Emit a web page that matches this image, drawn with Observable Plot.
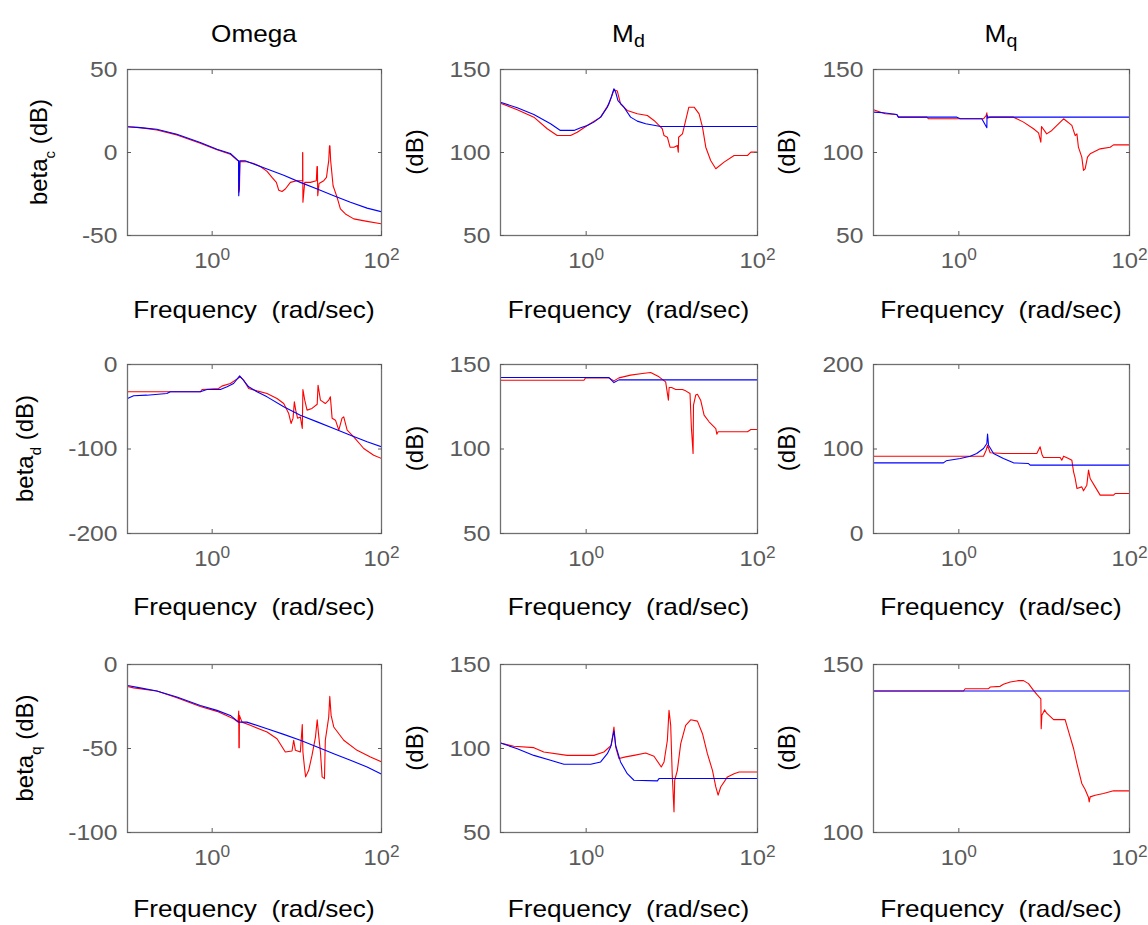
<!DOCTYPE html>
<html><head><meta charset="utf-8">
<script src="https://cdn.jsdelivr.net/npm/d3@7"></script>
<script src="https://cdn.jsdelivr.net/npm/@observablehq/plot@0.6"></script>
<style>
html,body{margin:0;padding:0;background:#fff;}
#fig{position:relative;width:1148px;height:925px;overflow:hidden;font-family:"Liberation Sans",Arial,sans-serif;}
#fig svg{position:absolute;overflow:visible;}
</style></head><body><div id="fig"></div>
<script>
// ---------------- DATA: [frequency (rad/sec), magnitude (dB)] ----------------
const xTicks = [1, 100];
const colTitles = [{main: "Omega", sub: ""}, {main: "M", sub: "d"}, {main: "M", sub: "q"}];
const rowLabels = [{main: "beta", sub: "c"}, {main: "beta", sub: "d"}, {main: "beta", sub: "q"}];
const xLabel = "Frequency  (rad/sec)";
const yUnit = "(dB)";

const yDomains = [[[-50, 50], [50, 150], [50, 150]], [[-200, 0], [50, 150], [0, 200]], [[-100, 0], [50, 150], [100, 150]]];
const yTicks = [[[-50, 0, 50], [50, 100, 150], [50, 100, 150]], [[-200, -100, 0], [50, 100, 150], [0, 100, 200]], [[-100, -50, 0], [50, 100, 150], [100, 150]]];

const betaC_Omega_blue = [[0.1,15.5],[0.141,15],[0.222,14],[0.383,11],[0.724,6],[1.14,2],[1.64,-0.6],[2.0,-4.6],[2.05,-5],[2.06,-26],[2.09,-20],[2.12,-5],[2.45,-5],[4.45,-10],[7.0,-13.7],[11.0,-18],[17.4,-22],[27.3,-26],[43,-30],[67.6,-33.5],[100,-35.7]];
const betaC_Omega_red = [[0.1,15.5],[0.141,15],[0.222,13.6],[0.383,10.6],[0.724,5.6],[1.14,1.6],[1.64,-1],[2.0,-4.8],[2.05,-5.2],[2.06,-24],[2.1,-22],[2.13,-5.5],[2.57,-5.6],[3.09,-6.6],[3.71,-8.4],[4.45,-11.4],[5.09,-15],[5.73,-18],[6.11,-22.7],[6.68,-23.5],[7.31,-22],[8.39,-18],[10,-17],[11.5,-17],[11.7,-17],[11.7,0],[11.75,0],[11.8,-30],[12.4,-18],[14.45,-18],[17.0,-17],[17.3,-8.4],[17.5,-8.4],[17.66,-26],[18.3,-18.7],[20.8,-17],[22.4,-15],[23.2,-9],[23.8,-5],[24.3,4],[24.6,4],[25.1,-5],[26.8,-20],[29.9,-27],[32.7,-34],[37.5,-37],[47,-40],[67.6,-41.5],[100,-43]];

const betaC_Md_blue = [[0.1,130.3],[0.157,126.9],[0.245,122.9],[0.384,117.3],[0.5,113.3],[0.72,113.3],[0.861,114.9],[1.03,116.3],[1.23,118.3],[1.476,121.3],[1.766,127.3],[1.963,133.3],[2.11,138.4],[2.21,136.3],[2.35,131.3],[2.76,127.3],[3.30,121.3],[3.95,118.9],[4.95,117.3],[7.41,115.7],[100,115.7]];
const betaC_Md_red = [[0.1,129.7],[0.157,125.7],[0.245,121.3],[0.351,114.3],[0.459,110.2],[0.658,110.2],[0.787,112.2],[1.03,116.3],[1.476,121.3],[1.845,129.3],[2.11,137.8],[2.31,137],[2.52,129.3],[3.02,125.3],[3.95,123.3],[5.18,122.3],[6.19,119.3],[7.08,116.3],[7.74,114.3],[8.11,110.2],[8.87,109.2],[9.53,103.2],[10.6,103.2],[11.6,104.2],[11.9,100.2],[12.0,109.2],[13.3,111.2],[13.9,115.3],[15.8,127.3],[18.2,127.3],[20.8,123.3],[22.8,115.3],[24.9,103.2],[28.4,95.2],[32.6,90.2],[40.7,94.2],[53.3,98.2],[76.4,98.2],[83.6,100.2],[100,100.2]];

const betaC_Mq_blue = [[0.1,124.3],[0.131,123.9],[0.1875,122.9],[0.196,121.3],[0.948,121.3],[1.04,120.3],[1.86,120.3],[2.13,114.9],[2.14,122.5],[2.17,121.3],[100,121.3]];
const betaC_Mq_red = [[0.1,125.7],[0.137,123.3],[0.1875,122.9],[0.196,121.3],[0.422,121.3],[0.442,120.3],[1.945,120.3],[2.09,122.3],[2.13,123.9],[2.15,120.7],[2.33,121.3],[4.37,121.3],[5.73,118.3],[7.5,114.3],[8.59,111.8],[9.14,106.2],[9.31,115.7],[10.7,111.2],[12.3,113.3],[16.9,120.3],[21.1,116.3],[23.1,110.2],[24.2,111.2],[25.2,103.2],[27.6,97.2],[28.9,89.2],[30.2,90.2],[32.2,97.2],[34.6,99.2],[45.3,102.2],[59.3,103.2],[65.0,104.6],[100,104.6]];

const betaD_Omega_blue = [[0.1,-40.2],[0.118,-37],[0.169,-36.3],[0.292,-34.3],[0.32,-32.3],[0.724,-32.3],[0.867,-29.6],[1.25,-29.6],[1.50,-26.4],[1.79,-22.5],[2.11,-13.4],[2.25,-16.6],[2.70,-26.4],[3.38,-32.3],[4.45,-38.3],[7.0,-50.1],[11.0,-60],[17.4,-67.9],[27.3,-75.7],[43,-83.6],[67.6,-91.5],[100,-97.4]];
const betaD_Omega_red = [[0.1,-32.3],[0.724,-32.3],[0.76,-29.6],[1.19,-28.4],[1.3,-25.6],[1.64,-22.5],[1.875,-18.5],[2.15,-14.6],[2.355,-18.5],[2.70,-28.4],[3.38,-31.2],[4.45,-34.3],[5.83,-40.2],[7.0,-46.2],[8.02,-58],[8.55,-69.8],[9.02,-63.5],[9.35,-44.2],[9.7,-54],[10.2,-63.5],[11.0,-62],[11.6,-75.7],[11.8,-29.6],[12.4,-42.2],[13.2,-54],[15.1,-52],[17.4,-47],[17.8,-24.5],[19.0,-42.2],[21.7,-46.2],[23.8,-42.2],[24.9,-38.3],[26.1,-63.5],[28.6,-65.9],[31.3,-77.7],[34.2,-63.5],[35.8,-61.9],[39.3,-77.7],[47.0,-85.6],[61.7,-99.4],[80.9,-107.3],[100,-111.2]];

const betaD_Md_blue = [[0.1,142.3],[1.845,142.3],[2.11,139.3],[2.415,140.9],[100,140.9]];
const betaD_Md_red = [[0.1,140.7],[0.942,140.7],[0.984,142.1],[1.845,142.1],[2.11,140.3],[2.415,142.1],[3.30,143.7],[4.53,144.7],[5.66,145.3],[7.08,142.7],[8.47,139.7],[9.12,128.9],[9.3,136.4],[9.95,136.4],[11.1,135.2],[13.3,135.2],[14.5,134.4],[16.3,132.8],[16.9,113.1],[17.7,97.3],[17.9,125.9],[19.0,131.9],[19.9,132.4],[21.7,128.9],[23.8,120],[27.2,116.1],[32.6,112.1],[33.5,108.8],[34.7,110.2],[76.4,110.2],[83.6,111.5],[100,111.5]];

const betaD_Mq_blue = [[0.1,83.6],[0.66,83.6],[0.711,86],[1.04,88.8],[1.36,91.5],[1.62,94.7],[1.945,100.6],[2.13,106.5],[2.17,117.6],[2.23,104.5],[2.55,94.7],[3.33,88.8],[4.37,83.6],[6.55,82.8],[6.86,80.9],[100,80.9]];
const betaD_Mq_red = [[0.1,91.5],[1.945,91.5],[2.09,98.6],[2.17,104.5],[2.33,95.5],[3.33,94.7],[8.2,94.7],[8.97,102.6],[9.4,93.9],[9.82,89.9],[15.4,89.9],[16.1,86.8],[16.9,91.5],[19.3,88.8],[21.1,86.8],[22.1,73],[23.1,65.1],[24.2,53.3],[27.6,55.2],[28.9,50.5],[31.6,57.2],[33.1,75],[34.6,65.1],[39.6,55.2],[45.3,45.4],[65.0,45.4],[67.9,47.3],[100,47.3]];

const betaQ_Omega_blue = [[0.1,-12.5],[0.141,-13.9],[0.222,-15.8],[0.383,-19.4],[0.724,-24.4],[1.14,-27.3],[1.64,-30.3],[2.06,-34.3],[2.57,-34.3],[4.45,-38.2],[7.0,-41.6],[11.0,-45.1],[17.4,-49.1],[27.3,-53.1],[43,-57],[67.6,-61],[100,-65.3]];
const betaQ_Omega_red = [[0.1,-13.1],[0.118,-13.9],[0.222,-15.8],[0.383,-19.8],[0.724,-25],[1.14,-27.9],[1.79,-32.3],[2.02,-34.3],[2.06,-27.7],[2.07,-49.5],[2.09,-49.5],[2.1,-30.3],[2.25,-34.3],[2.82,-36.2],[4.45,-40.2],[5.83,-44.2],[7.31,-52.1],[8.77,-51.5],[9.18,-45.1],[9.62,-51.1],[11.0,-52.1],[11.6,-35.8],[11.8,-52.1],[12.3,-61],[12.7,-66.9],[13.8,-63],[15.1,-54.1],[16.6,-43.2],[17.4,-32.9],[18.2,-43.2],[19.0,-52.1],[19.9,-66.9],[21.2,-67.9],[21.7,-45.1],[23.8,-31.3],[24.5,-19],[25.4,-30.3],[27.3,-37.2],[35.8,-45.1],[51.5,-51.1],[74.1,-55],[100,-58]];

const betaQ_Md_blue = [[0.1,103.3],[0.12,101.9],[0.157,99.9],[0.245,95.9],[0.384,93],[0.55,90.6],[1.13,90.6],[1.476,92],[1.766,96.9],[1.93,100.9],[2.11,110.4],[2.21,101.9],[2.52,92],[3.02,85],[3.61,81.1],[6.78,80.7],[7.08,82.1],[100,82.1]];
const betaQ_Md_red = [[0.1,103.3],[0.143,101.3],[0.245,100.5],[0.32,97.9],[0.6,95.9],[1.23,95.9],[1.61,97.9],[1.963,101.9],[2.11,112.8],[2.21,100.9],[2.415,94],[2.89,95],[3.61,95.9],[4.95,97.3],[6.19,95.4],[7.53,89],[8.11,92],[8.87,104.9],[9.27,122.7],[9.7,113.8],[10.1,85],[10.6,62.3],[10.8,81.1],[11.6,87],[12.7,102.9],[14.5,113.8],[16.6,117.1],[19.9,116.3],[22.8,108.8],[26.0,96.9],[29.8,87],[32.6,77.1],[34.7,72.2],[37.2,77.1],[44.6,83.1],[53.3,85],[61.0,86],[100,86]];

const betaQ_Mq_blue = [[0.1,142.1],[100,142.1]];
const betaQ_Mq_red = [[0.1,142.1],[1.135,142.1],[1.186,142.8],[2.23,142.8],[2.33,143.3],[3.05,143.5],[3.33,144.1],[4.0,144.8],[5.0,145.2],[5.73,145.2],[6.55,144.3],[7.5,142.3],[8.2,141.1],[9.14,139.8],[9.23,130.9],[9.4,134.9],[9.82,135.8],[10.1,136.5],[10.7,135.5],[12.9,133.6],[17.6,133.6],[20.2,128.4],[22.1,125],[24.2,120.5],[27.6,114.6],[30.2,112.8],[33.1,110.4],[33.7,109.1],[34.6,110.6],[39.6,111.1],[49.5,111.6],[65.0,112.4],[100,112.4]];

const redSeries = [[betaC_Omega_red, betaC_Md_red, betaC_Mq_red], [betaD_Omega_red, betaD_Md_red, betaD_Mq_red], [betaQ_Omega_red, betaQ_Md_red, betaQ_Mq_red]];
const blueSeries = [[betaC_Omega_blue, betaC_Md_blue, betaC_Mq_blue], [betaD_Omega_blue, betaD_Md_blue, betaD_Mq_blue], [betaQ_Omega_blue, betaQ_Md_blue, betaQ_Mq_blue]];

// ---------------- LAYOUT ----------------
const FONT = '"Liberation Sans", Arial, sans-serif';
const cols = [{left: 127, w: 254}, {left: 500, w: 257}, {left: 873, w: 256}];
const rows = [{top: 69, h: 166}, {top: 364, h: 169}, {top: 664, h: 168}];
const ML = 70, MR = 30, MT = 10, MB = 45;
const GRAY = "#5b5b5b";

const fig = document.getElementById("fig");
const toObj = a => a.map(([f, db]) => ({f, db}));

function stretchTexts(nodes, k) {
  nodes.forEach(t => {
    const L = t.getComputedTextLength();
    if (L > 0) {
      t.setAttribute("textLength", (L * k).toFixed(2));
      t.setAttribute("lengthAdjust", "spacingAndGlyphs");
    }
  });
}

for (let r = 0; r < 3; r++) {
  for (let c = 0; c < 3; c++) {
    const col = cols[c], row = rows[r];
    const svg = Plot.plot({
      width: col.w + ML + MR,
      height: row.h + MT + MB,
      marginLeft: ML, marginRight: MR, marginTop: MT, marginBottom: MB,
      style: {fontFamily: FONT, fontSize: "22px", background: "transparent", overflow: "visible"},
      x: {type: "log", domain: [0.1, 100], label: null},
      y: {domain: yDomains[r][c], label: null},
      marks: [
        Plot.line(toObj(redSeries[r][c]), {x: "f", y: "db", stroke: "#ff0000", strokeWidth: 1.1, clip: true}),
        Plot.line(toObj(blueSeries[r][c]), {x: "f", y: "db", stroke: "#0000ff", strokeWidth: 1.1, clip: true}),
        Plot.frame({stroke: "#707070", strokeWidth: 1.3}),
        Plot.axisX(xTicks, {anchor: "bottom", tickSize: -4, tickPadding: 21, color: GRAY, label: null, fontSize: 22,
          tickFormat: d => "10^" + Math.round(Math.log10(d))}),
        Plot.axisX(xTicks, {anchor: "top", tickSize: -4, color: GRAY, label: null, tickFormat: () => ""}),
        Plot.axisY(yTicks[r][c], {anchor: "left", tickSize: -4, tickPadding: 14, color: GRAY, label: null,
          tickFormat: d => String(d)}),
        Plot.axisY(yTicks[r][c], {anchor: "right", tickSize: -4, color: GRAY, label: null, tickFormat: () => ""})
      ]
    });
    svg.style.left = (col.left - ML) + "px";
    svg.style.top = (row.top - MT) + "px";
    fig.appendChild(svg);
    d3.select(svg).selectAll('g[aria-label="x-axis tick label"] text').each(function () {
      const t = this.textContent;
      if (!t.includes("^")) return;
      const [base, exp] = t.split("^");
      this.textContent = "";
      d3.select(this).append("tspan").text(base);
      d3.select(this).append("tspan").attr("dy", "-8").attr("font-size", "16px").text(exp);
    });
    stretchTexts(svg.querySelectorAll('g[aria-label="x-axis tick label"] text'), 1.08);
    stretchTexts(svg.querySelectorAll('g[aria-label="y-axis tick label"] text'), 1.12);
  }
}

// ---------------- LABELS ----------------
const ov = d3.select(fig).append("svg")
  .attr("width", 1148).attr("height", 925)
  .style("left", "0px").style("top", "0px")
  .style("font-family", FONT).style("font-size", "24px");

const titleBaseline = 42;
colTitles.forEach((t, c) => {
  const cx = cols[c].left + cols[c].w / 2;
  const tx = ov.append("text").attr("class", "h").attr("x", cx).attr("y", titleBaseline).attr("text-anchor", "middle").attr("fill", "#000");
  tx.append("tspan").text(t.main);
  if (t.sub) tx.append("tspan").attr("dy", 5).attr("font-size", "18px").text(t.sub);
});

const xLabelBase = [318, 615, 917];
rows.forEach((row, r) => {
  cols.forEach((col, c) => {
    ov.append("text").attr("class", "h")
      .attr("x", col.left + col.w / 2).attr("y", xLabelBase[r])
      .attr("text-anchor", "middle").attr("fill", "#000")
      .attr("xml:space", "preserve").style("white-space", "pre")
      .text(xLabel);
  });
});

const yLabelX = [[47, 423, 795], [33, 423, 795], [33, 423, 795]];
rows.forEach((row, r) => {
  cols.forEach((col, c) => {
    const cy = row.top + row.h / 2;
    const g = ov.append("g").attr("transform", `translate(${yLabelX[r][c]},${cy}) rotate(-90)`);
    const tx = g.append("text").attr("text-anchor", "middle").attr("fill", "#000")
      .attr("xml:space", "preserve").style("white-space", "pre");
    if (c === 0) {
      tx.append("tspan").text(rowLabels[r].main);
      tx.append("tspan").attr("dy", 8).attr("font-size", "15px").text(rowLabels[r].sub);
      tx.append("tspan").attr("dy", -8).text(" " + yUnit);
    } else {
      tx.text(yUnit);
    }
  });
});
stretchTexts(ov.node().querySelectorAll("text.h"), 1.09);
</script>
</body></html>
